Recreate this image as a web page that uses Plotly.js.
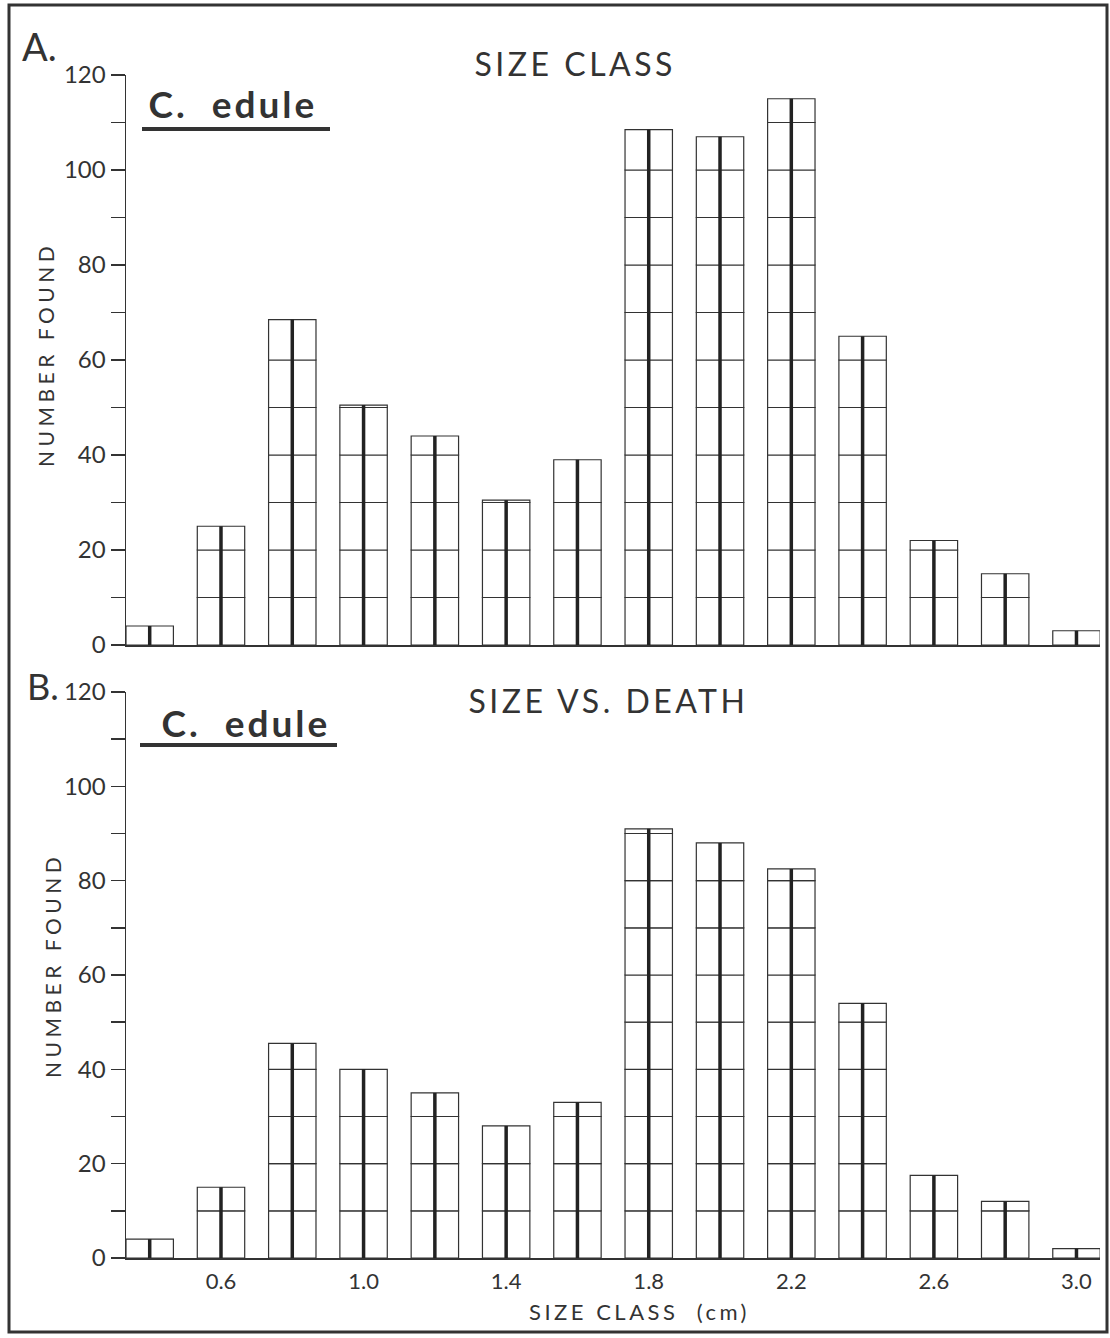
<!DOCTYPE html>
<html>
<head>
<meta charset="utf-8">
<script src="https://cdn.plot.ly/plotly-3.0.1.min.js"></script>
<style>
html,body{margin:0;padding:0;background:#fff;}
#chart{width:1110px;height:1338px;}
g.annotation[data-index="2"] text, g.annotation[data-index="3"] text { letter-spacing: 3.5px; }
g.annotation[data-index="4"] text, g.annotation[data-index="5"] text { letter-spacing: 3px; }
g.annotation[data-index="6"] text, g.annotation[data-index="7"] text { letter-spacing: 4.5px; }
g.annotation[data-index="8"] text { letter-spacing: 3.5px; }
</style>
</head>
<body>
<div id="chart"></div>
<script>
// ---- data ----
const sizeClass = [0.4, 0.6, 0.8, 1.0, 1.2, 1.4, 1.6, 1.8, 2.0, 2.2, 2.4, 2.6, 2.8, 3.0];
const sizeClassCounts = [4, 25, 68.5, 50.5, 44, 30.5, 39, 108.5, 107, 115, 65, 22, 15, 3];   // A. SIZE CLASS
const sizeDeathCounts = [4, 15, 45.5, 40, 35, 28, 33, 91, 88, 82.5, 54, 17.5, 12, 2];        // B. SIZE VS. DEATH
const xTickVals = [0.6, 1.0, 1.4, 1.8, 2.2, 2.6, 3.0];
const xTickText = ["0.6", "1.0", "1.4", "1.8", "2.2", "2.6", "3.0"];
const cellSize = 10;   // the bars are ruled every 10 units

// ---- helpers ----
const W = 1110, H = 1338;
const fx = p => p / W;
const fy = p => 1 - p / H;
const INK = '#333333';
const FONT = 'Lato, "Noto Sans", sans-serif';
const BARW = 0.133;

function cellTraces(values, xa, ya) {
  const traces = [];
  const maxV = Math.max(...values);
  for (let k = 0; k * cellSize < maxV; k++) {
    const ys = values.map(v => {
      const seg = Math.min(cellSize, v - k * cellSize);
      return seg > 0 ? seg : null;
    });
    traces.push({
      type: 'bar', x: sizeClass, y: ys, base: sizeClass.map(() => k * cellSize),
      width: BARW, xaxis: xa, yaxis: ya, showlegend: false, hoverinfo: 'skip',
      marker: {color: '#ffffff', line: {color: INK, width: 1.2}}
    });
  }
  return traces;
}
function spineTrace(values, xa, ya) {
  const xs = [], ys = [];
  sizeClass.forEach((c, i) => { xs.push(c, c, null); ys.push(0, values[i], null); });
  return {type: 'scatter', mode: 'lines', x: xs, y: ys, xaxis: xa, yaxis: ya,
          showlegend: false, hoverinfo: 'skip', line: {color: '#222222', width: 3.5}};
}

const data = [
  ...cellTraces(sizeClassCounts, 'x', 'y'), spineTrace(sizeClassCounts, 'x', 'y'),
  ...cellTraces(sizeDeathCounts, 'x2', 'y2'), spineTrace(sizeDeathCounts, 'x2', 'y2')
];

const xRange = [0.3335, 3.066];
const yAxisBase = {
  range: [0, 120], tick0: 0, dtick: 20, showgrid: false, zeroline: false,
  showline: true, linecolor: INK, linewidth: 1.5,
  ticks: 'outside', ticklen: 14, tickwidth: 1.5, tickcolor: INK,
  minor: {dtick: 10, ticks: 'outside', ticklen: 14, tickwidth: 1.5, tickcolor: INK, showgrid: false},
  tickfont: {family: FONT, size: 24, color: INK}, fixedrange: true
};
const xAxisBase = {
  range: xRange, showgrid: false, zeroline: false, showline: true, linecolor: INK, linewidth: 1.5,
  ticks: '', tickvals: xTickVals, ticktext: xTickText,
  tickfont: {family: FONT, size: 22, color: INK}, domain: [fx(126), fx(1100)], fixedrange: true
};

const ann = (text, x, y, size, opts = {}) => Object.assign({
  text, xref: 'paper', yref: 'paper', x: fx(x), y: fy(y), showarrow: false,
  xanchor: 'center', yanchor: 'middle', font: {family: FONT, size, color: INK}
}, opts);

const layout = {
  width: W, height: H, margin: {l: 0, r: 0, t: 0, b: 0, pad: 0},
  paper_bgcolor: '#ffffff', plot_bgcolor: 'rgba(0,0,0,0)', barmode: 'overlay', bargap: 0,
  font: {family: FONT, color: INK},
  xaxis: Object.assign({}, xAxisBase, {anchor: 'y', showticklabels: false}),
  yaxis: Object.assign({}, yAxisBase, {anchor: 'x', domain: [fy(645), fy(75)]}),
  xaxis2: Object.assign({}, xAxisBase, {anchor: 'y2', showticklabels: true, ticklabelstandoff: 3}),
  yaxis2: Object.assign({}, yAxisBase, {anchor: 'x2', domain: [fy(1258), fy(692)]}),
  annotations: [
    ann('A.', 20, 46, 38, {xanchor: 'left'}),
    ann('B.', 25, 686, 36, {xanchor: 'left'}),
    ann('SIZE CLASS', 575, 63, 32),
    ann('SIZE VS. DEATH', 608, 700, 32),
    ann('<b>C.  edule</b>', 233, 103, 37),
    ann('<b>C.  edule</b>', 246, 722, 37),
    ann('NUMBER FOUND', 45, 355, 21, {textangle: -90}),
    ann('NUMBER FOUND', 52, 966, 21, {textangle: -90}),
    ann('SIZE CLASS  (cm)', 639, 1311, 22)
  ],
  shapes: [
    {type: 'rect', xref: 'paper', yref: 'paper', x0: fx(9), x1: fx(1107), y0: fy(1332), y1: fy(5),
     line: {color: INK, width: 3}, fillcolor: 'rgba(0,0,0,0)'},
    {type: 'line', xref: 'paper', yref: 'paper', x0: fx(142), x1: fx(330), y0: fy(129), y1: fy(129),
     line: {color: INK, width: 4}},
    {type: 'line', xref: 'paper', yref: 'paper', x0: fx(140), x1: fx(337), y0: fy(745), y1: fy(745),
     line: {color: INK, width: 4}}
  ]
};

Plotly.newPlot('chart', data, layout, {staticPlot: true, displayModeBar: false});
</script>
</body>
</html>
